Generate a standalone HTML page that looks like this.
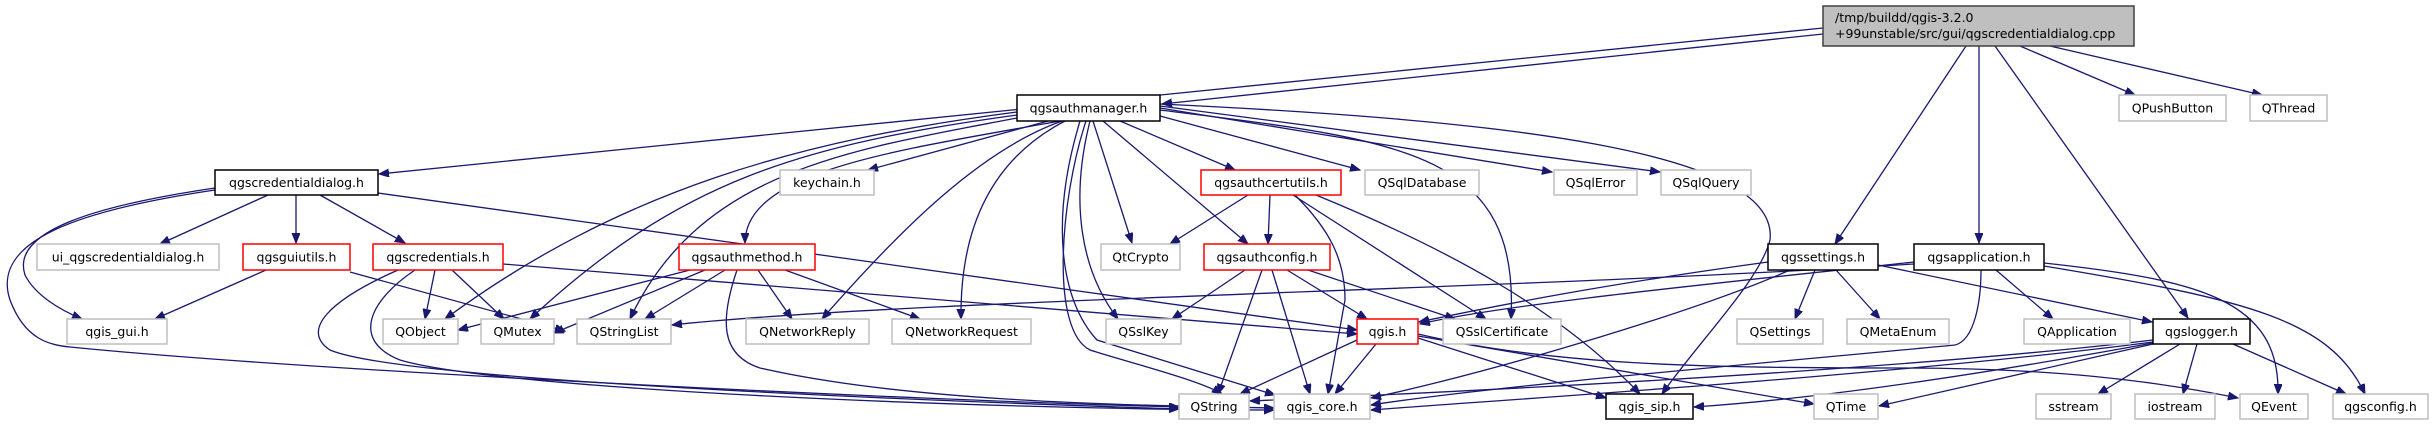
<!DOCTYPE html>
<html><head><meta charset="utf-8"><style>
html,body{margin:0;padding:0;background:#fff;width:2434px;height:425px;overflow:hidden}
svg text{font-family:"DejaVu Sans","Liberation Sans",sans-serif;font-size:12.5px;fill:#000}
.e{fill:none;stroke:#191970;stroke-width:1.3;marker-end:url(#a)}
.g{fill:#fff;stroke:#bfbfbf;stroke-width:1.5}
.r{fill:#fff;stroke:#ff0000;stroke-width:1.5}
.b{fill:#fff;stroke:#000;stroke-width:1.5}
</style></head><body>
<svg width="2434" height="425" viewBox="0 0 2434 425" xmlns="http://www.w3.org/2000/svg">
<defs><marker id="a" markerWidth="11" markerHeight="9" refX="10" refY="4" orient="auto" markerUnits="userSpaceOnUse"><path d="M0,0 L10,4 L0,8 z" fill="#191970" stroke="#191970"/></marker></defs>
<!-- edges -->
<path class="e" d="M1823,28 L379,174"/>
<path class="e" d="M1823,34 L1162,104"/>
<path class="e" d="M2020,46 L2135,95"/>
<path class="e" d="M2050,46 L2262,95"/>
<path class="e" d="M1966,46 L1835,244"/>
<path class="e" d="M1979,46 L1979,243"/>
<path class="e" d="M1995,46 L2188,318"/>

<path class="e" d="M1048,121 L868,170"/>
<path class="e" d="M1060,121 C900,150 745,170 745,243"/>
<path class="e" d="M1017,112 C800,140 620,190 445,319"/>
<path class="e" d="M1017,115 C800,145 680,180 530,319"/>
<path class="e" d="M1017,118 C850,150 700,170 630,319"/>
<path class="e" d="M1062,121 C980,150 900,230 822,319"/>
<path class="e" d="M1065,121 C990,160 960,230 961,319"/>
<path class="e" d="M1093,121 L1132,243"/>
<path class="e" d="M1090,121 C1070,200 1080,270 1118,319"/>
<path class="e" d="M1080,121 C1050,220 1060,300 1097,340 L1275,395"/>
<path class="e" d="M1086,121 C1060,200 1050,330 1090,350 C1120,360 1200,380 1222,394"/>
<path class="e" d="M1120,121 L1235,170"/>
<path class="e" d="M1103,121 L1248,244"/>
<path class="e" d="M1160,116 L1360,170"/>
<path class="e" d="M1160,110 C1400,140 1520,150 1511,319"/>
<path class="e" d="M1160,108 L1552,172"/>
<path class="e" d="M1160,106 L1660,172"/>
<path class="e" d="M1160,104 C1500,120 1780,150 1770,240 C1760,280 1700,340 1662,394"/>

<path class="e" d="M268,195 L160,244"/>
<path class="e" d="M296,195 L296,243"/>
<path class="e" d="M320,195 L405,243"/>
<path class="e" d="M215,188 C100,205 10,230 25,275 C35,295 60,310 82,319"/>
<path class="e" d="M215,190 C80,210 -10,240 10,300 C25,340 50,345 70,347 C300,370 900,400 1179,407"/>
<path class="e" d="M378,193 L1357,330"/>

<path class="e" d="M266,270 L155,319"/>
<path class="e" d="M350,272 L565,331"/>
<path class="e" d="M435,270 L425,319"/>
<path class="e" d="M452,270 L504,319"/>
<path class="e" d="M398,270 C330,300 300,330 330,350 C400,380 900,400 1179,409"/>
<path class="e" d="M415,270 C370,300 350,340 400,360 C500,390 1000,410 1274,410"/>
<path class="e" d="M503,264 L1357,334"/>

<path class="e" d="M690,270 L458,330"/>
<path class="e" d="M705,270 L554,333"/>
<path class="e" d="M725,270 L645,319"/>
<path class="e" d="M758,270 L792,319"/>
<path class="e" d="M785,270 L920,319"/>
<path class="e" d="M737,270 C720,320 720,355 760,368 C900,400 1100,405 1274,408"/>

<path class="e" d="M1248,195 L1170,244"/>
<path class="e" d="M1270,195 L1268,244"/>
<path class="e" d="M1295,195 C1330,230 1345,260 1345,300 L1328,394"/>
<path class="e" d="M1293,195 L1486,319"/>
<path class="e" d="M1316,195 C1450,250 1560,310 1640,394"/>

<path class="e" d="M1245,270 L1172,319"/>
<path class="e" d="M1262,270 L1218,394"/>
<path class="e" d="M1272,270 L1310,394"/>
<path class="e" d="M1287,270 L1367,319"/>
<path class="e" d="M1308,270 L1455,319"/>

<path class="e" d="M1357,340 L1240,394"/>
<path class="e" d="M1376,344 L1335,394"/>
<path class="e" d="M1418,338 L1606,398"/>
<path class="e" d="M1418,336 L1814,404"/>
<path class="e" d="M1418,334 C1550,365 1700,368 1900,368 C2050,368 2150,380 2238,398"/>

<path class="e" d="M1768,262 C1600,285 1500,305 1419,322"/>
<path class="e" d="M1790,270 C1700,310 1500,370 1371,398"/>
<path class="e" d="M1815,270 L1795,319"/>
<path class="e" d="M1836,270 L1880,319"/>
<path class="e" d="M1878,265 L2152,322"/>

<path class="e" d="M1914,262 C1700,285 1500,305 1420,324"/>
<path class="e" d="M1914,264 C1500,290 900,300 672,325"/>
<path class="e" d="M1981,270 C1981,300 1975,340 1955,345 C1800,360 1500,385 1371,405"/>
<path class="e" d="M1996,270 L2053,319"/>
<path class="e" d="M2044,263 C2200,280 2280,300 2278,394"/>
<path class="e" d="M2044,266 C2250,300 2330,320 2365,394"/>

<path class="e" d="M2180,344 L2098,394"/>
<path class="e" d="M2197,344 L2183,394"/>
<path class="e" d="M2233,344 L2346,394"/>
<path class="e" d="M2153,340 C1900,370 1500,390 1250,401"/>
<path class="e" d="M2153,342 C1900,375 1500,400 1371,410"/>
<path class="e" d="M2153,343 C1950,380 1800,400 1694,407"/>
<path class="e" d="M2153,344 L1879,406"/>

<!-- nodes -->
<rect x="1823" y="6" width="311" height="40" fill="#bfbfbf" stroke="#404040" stroke-width="1.5"/>
<text x="1835" y="22">/tmp/buildd/qgis-3.2.0</text>
<text x="1835" y="38">+99unstable/src/gui/qgscredentialdialog.cpp</text>

<g text-anchor="middle">
<rect class="b" x="1017" y="95" width="143" height="26"/><text x="1088.5" y="112.5">qgsauthmanager.h</text>
<rect class="g" x="2119" y="95" width="107" height="26"/><text x="2172.5" y="112.5">QPushButton</text>
<rect class="g" x="2250" y="95" width="77" height="26"/><text x="2288.5" y="112.5">QThread</text>

<rect class="b" x="215" y="170" width="163" height="25"/><text x="296.5" y="187">qgscredentialdialog.h</text>
<rect class="g" x="780" y="170" width="94" height="25"/><text x="827" y="187">keychain.h</text>
<rect class="r" x="1201" y="170" width="140" height="25"/><text x="1271" y="187">qgsauthcertutils.h</text>
<rect class="g" x="1365" y="170" width="114" height="25"/><text x="1422" y="187">QSqlDatabase</text>
<rect class="g" x="1554" y="170" width="83" height="25"/><text x="1595.5" y="187">QSqlError</text>
<rect class="g" x="1661" y="170" width="90" height="25"/><text x="1706" y="187">QSqlQuery</text>

<rect class="g" x="37" y="244" width="182" height="26"/><text x="128" y="261.5">ui_qgscredentialdialog.h</text>
<rect class="r" x="243" y="244" width="107" height="26"/><text x="296.5" y="261.5">qgsguiutils.h</text>
<rect class="r" x="373" y="244" width="130" height="26"/><text x="438" y="261.5">qgscredentials.h</text>
<rect class="r" x="679" y="244" width="136" height="26"/><text x="747" y="261.5">qgsauthmethod.h</text>
<rect class="g" x="1101" y="244" width="79" height="26"/><text x="1140.5" y="261.5">QtCrypto</text>
<rect class="r" x="1204" y="244" width="126" height="26"/><text x="1267" y="261.5">qgsauthconfig.h</text>
<rect class="b" x="1768" y="244" width="110" height="26"/><text x="1823" y="261.5">qgssettings.h</text>
<rect class="b" x="1914" y="244" width="130" height="26"/><text x="1979" y="261.5">qgsapplication.h</text>

<rect class="g" x="67" y="319" width="100" height="25"/><text x="117" y="336">qgis_gui.h</text>
<rect class="g" x="383" y="319" width="75" height="25"/><text x="420.5" y="336">QObject</text>
<rect class="g" x="481" y="319" width="73" height="25"/><text x="517.5" y="336">QMutex</text>
<rect class="g" x="577" y="319" width="94" height="25"/><text x="624" y="336">QStringList</text>
<rect class="g" x="746" y="319" width="123" height="25"/><text x="807.5" y="336">QNetworkReply</text>
<rect class="g" x="892" y="319" width="139" height="25"/><text x="961.5" y="336">QNetworkRequest</text>
<rect class="g" x="1106" y="319" width="75" height="25"/><text x="1143.5" y="336">QSslKey</text>
<rect class="r" x="1357" y="319" width="61" height="25"/><text x="1387.5" y="336">qgis.h</text>
<rect class="g" x="1443" y="319" width="118" height="25"/><text x="1502" y="336">QSslCertificate</text>
<rect class="g" x="1737" y="319" width="86" height="25"/><text x="1780" y="336">QSettings</text>
<rect class="g" x="1847" y="319" width="102" height="25"/><text x="1898" y="336">QMetaEnum</text>
<rect class="g" x="2024" y="319" width="106" height="25"/><text x="2077" y="336">QApplication</text>
<rect class="b" x="2153" y="319" width="97" height="25"/><text x="2201.5" y="336">qgslogger.h</text>

<rect class="g" x="1179" y="394" width="70" height="25"/><text x="1214" y="411">QString</text>
<rect class="g" x="1274" y="394" width="96" height="25"/><text x="1322" y="411">qgis_core.h</text>
<rect class="b" x="1606" y="394" width="87" height="25"/><text x="1649.5" y="411">qgis_sip.h</text>
<rect class="g" x="1814" y="394" width="64" height="25"/><text x="1846" y="411">QTime</text>
<rect class="g" x="2036" y="394" width="75" height="25"/><text x="2073.5" y="411">sstream</text>
<rect class="g" x="2135" y="394" width="80" height="25"/><text x="2175" y="411">iostream</text>
<rect class="g" x="2240" y="394" width="68" height="25"/><text x="2274" y="411">QEvent</text>
<rect class="g" x="2333" y="394" width="95" height="25"/><text x="2380.5" y="411">qgsconfig.h</text>
</g>
</svg>
</body></html>
